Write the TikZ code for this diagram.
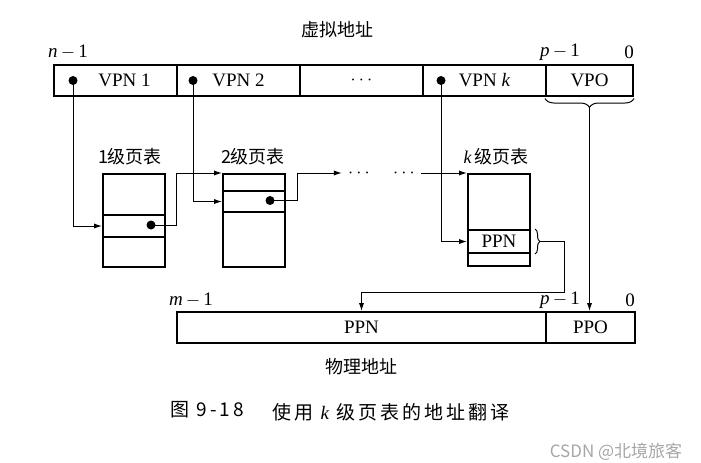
\documentclass[tikz,border=0pt]{standalone}
\usepackage{fontspec}
\setmainfont{Liberation Serif}
\newfontfamily\cjk{Noto Sans CJK SC}
\newfontfamily\capcjk[LetterSpace=16]{Noto Sans CJK SC}
\usetikzlibrary{arrows.meta, positioning, calc, decorations.pathreplacing}

\tikzset{
  field/.style={draw, line width=1pt, minimum height=15.5pt, inner sep=0pt, font=\fontsize{9.5}{11}\selectfont},
  row/.style={draw, line width=1pt, minimum width=31pt, inner sep=0pt, anchor=north west, font=\fontsize{9.5}{11}\selectfont},
  link/.style={line width=0.5pt, -{Latex[length=4pt, width=2.6pt]}},
  dot/.style={circle, fill, inner sep=0pt, minimum size=4.5pt},
  lbl/.style={font=\fontsize{9.5}{11}\selectfont, inner sep=0pt},
  cjklbl/.style={font=\cjk\fontsize{9}{11}\selectfont, inner sep=0pt},
  brc/.style={line width=0.5pt, decorate, decoration={brace, amplitude=4.5pt}},
}

\begin{document}
\begin{tikzpicture}[x=0.5pt, y=-0.5pt]
  \useasboundingbox (0,0) rectangle (701,462);

  % virtual address
  \node[cjklbl] (vatitle) at (337,30) {虚拟地址};
  \node[lbl] (vn) at (68,52) {\textit{n}\,$-$\,1};
  \node[lbl] (vp) at (560,52) {\textit{p}\,$-$\,1};
  \node[lbl] (vz) at (629,52) {0};
  \node[field, minimum width=61.5pt] (vpn1) at (115.5,80.5) {\hspace{9pt}VPN 1};
  \node[field, minimum width=61.5pt] (vpn2) at (238.5,80.5) {VPN 2\hspace{7pt}};
  \node[field, minimum width=61.5pt] (vdots) at (361.5,80.5) {$\cdots$};
  \node[field, minimum width=61.5pt] (vpnk) at (484.5,80.5) {VPN \textit{k}};
  \node[field, minimum width=43.5pt] (vpo) at (589.5,80.5) {VPO};
  \node[dot] (d1) at (73,80.5) {};
  \node[dot] (d2) at (193,80.5) {};
  \node[dot] (dk) at (441,80.5) {};

  % page tables
  \node[cjklbl] (l1) at (130,157) {1级页表};
  \node[row, minimum height=20.5pt] (t1top) at (102,173) {};
  \node[row, minimum height=11pt] (t1mid) at (102,214) {};
  \node[row, minimum height=15pt] (t1bot) at (102,236) {};
  \node[dot] (e1) at (151,225) {};

  \node[cjklbl] (l2) at (253,157) {2级页表};
  \node[row, minimum height=8.5pt] (t2top) at (222,173) {};
  \node[row, minimum height=10.5pt] (t2mid) at (222,190) {};
  \node[row, minimum height=27.5pt] (t2bot) at (222,211) {};
  \node[dot] (e2) at (270,200.5) {};

  \node[cjklbl] (lk) at (496,157) {{\rmfamily\itshape k}\,级页表};
  \node[row, minimum height=28pt] (tktop) at (467,173) {};
  \node[row, minimum height=11.5pt] (tkppn) at (467,229) {PPN};
  \node[row, minimum height=6.5pt] (tkbot) at (467,252) {};

  \node[lbl, inner sep=3pt] (gd1) at (359,173) {$\cdots$};
  \node[lbl, inner sep=3pt] (gd2) at (404,173) {$\cdots$};

  % links
  \draw[link] (d1.center) |- (t1mid.west);
  \draw[link] (e1.center) -- ++(25,0) |- (t2top.north west);
  \draw[link] (d2.center) |- (t2mid.west);
  \draw[link] (e2.center) -- ++(27,0) |- (gd1.west);
  \draw[link] (gd2.east) -- (tktop.north west);
  \draw[link] (dk.center) |- (tkppn.west);

  % braces
  \draw[brc, decoration={amplitude=2.5pt}] ($(tkppn.north east)+(4,0)$) -- ($(tkppn.south east)+(4,0)$);
  \coordinate (pbr) at ($(tkppn.east)+(9,0)$);
  \draw[brc, decoration={mirror}] ($(vpo.south west)+(0,1.5)$) -- ($(vpo.south east)+(0,1.5)$);
  \coordinate (vbr) at ($(vpo.south)+(0,11)$);

  % physical address
  \node[lbl] (pm) at (191,300) {\textit{m}\,$-$\,1};
  \node[lbl] (pp) at (560,300) {\textit{p}\,$-$\,1};
  \node[lbl] (pz) at (630,300) {0};
  \node[field, minimum width=184.5pt] (ppn) at (361.5,327.5) {PPN};
  \node[field, minimum width=44.5pt] (ppo) at (590.5,327.5) {PPO};
  \node[cjklbl] (patitle) at (361,367) {物理地址};

  \draw[link] (pbr) -- ++(24,0) -- ++(0,50.5) -| (ppn.north);
  \draw[link] (vbr) -- (vbr |- ppo.north);

  % caption
  \node[font=\capcjk\fontsize{9.5}{11}\selectfont] (fig) at (207,410) {图 9-18};
  \node[font=\capcjk\fontsize{9.5}{11}\selectfont] (cap) at (391,412) {使用 {\rmfamily\itshape k} 级页表的地址翻译};
  \node[font=\cjk\fontsize{8.5}{10}\selectfont, text=gray!70] (wm) at (616,452) {CSDN @北境旅客};
\end{tikzpicture}
\end{document}
